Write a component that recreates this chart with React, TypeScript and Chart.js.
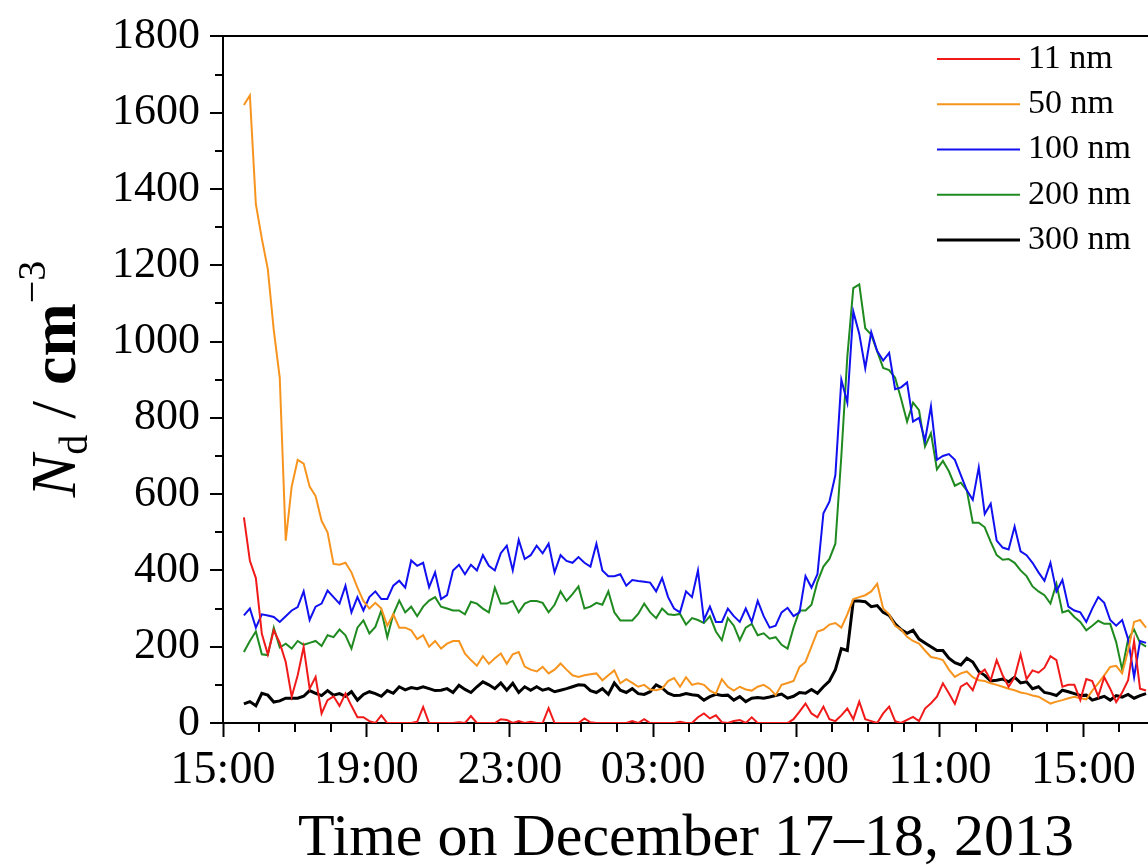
import React, { useEffect, useRef } from "react";
import { Chart, registerables } from "chart.js";

Chart.register(...registerables);

const FONT = '"Liberation Serif", "Times New Roman", Times, serif';

// Axis ticks: hours after 15:00 on 17 December
const X_TICK_HOURS = [0, 4, 8, 12, 16, 20, 24];
const X_TICK_LABELS = ["15:00", "19:00", "23:00", "03:00", "07:00", "11:00", "15:00"];
const X_MINOR_HOURS = [1, 2, 3, 5, 6, 7, 9, 10, 11, 13, 14, 15, 17, 18, 19, 21, 22, 23, 25];
const Y_MINOR_VALUES = [100, 300, 500, 700, 900, 1100, 1300, 1500, 1700];

const SERIES_LABELS = ["11 nm", "50 nm", "100 nm", "200 nm", "300 nm"];
const SERIES_COLORS = ["#f01a1a", "#f7941e", "#1010f0", "#1f8a1f", "#000000"];
const SERIES_WIDTHS = [2, 2, 2, 2, 3];

// Scans every 10 minutes, first one at 15:35
const FIRST_SCAN_MIN = 35;
const SCAN_STEP_MIN = 10;

// Number concentration (cm^-3) per diameter
const n11 = [
  539, 425, 380, 234, 180, 243, 210, 160, 69, 125,
  199, 90, 121, 25, 60, 70, 45, 77, 45, 15,
  15, 5, 0, 20, 0, 0, 0, 0, 0, 3,
  42, 0, 0, 0, 0, 0, 2, 0, 18, 0,
  0, 0, 0, 10, 8, 0, 5, 0, 3, 0,
  0, 39, 0, 0, 0, 0, 0, 12, 2, 0,
  0, 0, 0, 0, 0, 5, 0, 10, 0, 0,
  0, 0, 0, 3, 0, 0, 15, 25, 12, 20,
  2, 0, 5, 8, 0, 15, 0, 0, 0, 0,
  0, 0, 10, 30, 51, 25, 15, 43, 10, 5,
  20, 38, 10, 56, 10, 5, 0, 25, 43, 5,
  0, 8, 16, 5, 38, 52, 69, 104, 78, 50,
  95, 105, 86, 128, 140, 112, 165, 125, 95, 120,
  180, 115, 138, 132, 145, 175, 165, 95, 100, 100,
  60, 115, 110, 70, 120, 90, 55, 80, 112, 215,
  90, 85,
];

const n50 = [
  1620, 1645, 1360, 1270, 1190, 1030, 905, 478, 620, 690,
  680, 620, 595, 530, 500, 417, 415, 420, 395, 355,
  320, 300, 315, 300, 255, 285, 250, 250, 243, 220,
  230, 200, 215, 195, 208, 215, 215, 182, 165, 150,
  175, 155, 170, 182, 155, 180, 186, 148, 140, 135,
  147, 130, 140, 156, 140, 125, 121, 125, 128, 130,
  112, 125, 138, 104, 115, 105, 95, 100, 88, 86,
  90, 110, 118, 95, 120, 100, 104, 100, 85, 77,
  115, 95, 85, 95, 88, 85, 95, 100, 90, 73,
  100, 105, 110, 147, 160, 200, 240, 245, 258, 262,
  250, 285, 325, 330, 335, 345, 365, 300, 285, 255,
  245, 226, 215, 208, 190, 173, 170, 165, 140, 121,
  130, 135, 120, 112, 110, 104, 100, 95, 90, 86,
  80, 77, 72, 69, 60, 51, 56, 60, 65, 69,
  65, 62, 85, 104, 125, 147, 150, 130, 190, 265,
  270, 250,
];

const n100 = [
  282, 300, 250, 285, 282, 278, 265, 280, 295, 304,
  345, 270, 305, 313, 347, 330, 313, 360, 290, 330,
  295, 330, 345, 325, 325, 360, 373, 355, 426, 412,
  420, 356, 395, 325, 335, 400, 415, 390, 415, 400,
  440, 412, 400, 445, 465, 400, 480, 430, 440, 465,
  445, 470, 395, 440, 425, 420, 435, 420, 410, 470,
  400, 385, 385, 390, 360, 375, 372, 370, 368, 345,
  380, 330, 300, 290, 345, 330, 400, 270, 305, 265,
  265, 300, 280, 265, 300, 265, 320, 280, 250, 255,
  290, 302, 280, 290, 385, 355, 390, 550, 580, 650,
  900, 840, 1079, 1020, 930, 1025, 975, 950, 970, 875,
  880, 893, 790, 800, 740, 830, 690, 700, 705, 690,
  650, 610, 585, 670, 548, 575, 478, 460, 455, 515,
  450, 440, 420, 395, 373, 420, 345, 375, 305, 295,
  290, 265, 300, 330, 315, 270, 255, 270, 220, 120,
  215, 210,
];

const n200 = [
  186, 215, 240, 180, 178, 250, 198, 208, 195, 215,
  205, 210, 215, 202, 230, 225, 245, 230, 195, 250,
  269, 235, 252, 295, 225, 285, 321, 290, 305, 280,
  305, 321, 330, 305, 300, 295, 295, 285, 318, 313,
  300, 290, 355, 313, 313, 320, 290, 313, 320, 320,
  315, 290, 310, 345, 320, 338, 358, 300, 305, 315,
  310, 345, 290, 269, 269, 269, 286, 313, 290, 275,
  300, 285, 283, 286, 258, 275, 270, 262, 280, 240,
  217, 275, 255, 217, 250, 260, 230, 235, 221, 225,
  205, 195, 250, 295, 295, 310, 370, 410, 430, 470,
  700, 960, 1140, 1150, 1035, 1018, 974, 931, 925, 905,
  850, 790, 840, 820, 725, 760, 665, 687, 660, 622,
  630, 610, 525, 525, 513, 475, 440, 428, 430, 420,
  400, 385, 358, 345, 335, 313, 365, 290, 295, 278,
  265, 243, 255, 268, 260, 260, 212, 140, 220, 245,
  210, 200,
];

const n300 = [
  50, 56, 45, 78, 73, 55, 58, 65, 65, 65,
  70, 85, 78, 72, 85, 73, 77, 70, 82, 60,
  75, 82, 77, 70, 85, 78, 95, 87, 93, 90,
  95, 90, 85, 86, 90, 80, 99, 88, 80, 95,
  108, 100, 90, 105, 86, 104, 80, 95, 86, 95,
  86, 90, 82, 86, 90, 95, 100, 99, 85, 80,
  90, 75, 105, 86, 80, 90, 77, 75, 82, 100,
  92, 78, 72, 73, 77, 74, 72, 60, 69, 75,
  72, 73, 60, 69, 56, 65, 67, 65, 68, 72,
  76, 65, 70, 80, 78, 88, 78, 95, 110, 140,
  195, 190, 320, 320, 318, 305, 308, 290, 282, 260,
  245, 235, 243, 220, 210, 200, 190, 190, 170, 158,
  152, 170, 160, 135, 125, 110, 112, 115, 108, 120,
  105, 108, 90, 95, 80, 77, 72, 86, 82, 77,
  72, 73, 60, 65, 70, 60, 72, 68, 75, 65,
  72, 77,
];

const SERIES_VALUES = [n11, n50, n100, n200, n300];

const scanHour = (i: number) => (FIRST_SCAN_MIN + SCAN_STEP_MIN * i) / 60;

// Short minor tick marks on both axes
const minorTicks = {
  id: "minorTicks",
  afterDraw(chart: any) {
    const { ctx, chartArea, scales } = chart;
    ctx.save();
    ctx.strokeStyle = "#000";
    ctx.lineWidth = 2;
    ctx.beginPath();
    Y_MINOR_VALUES.forEach((v) => {
      const py = Math.round(scales.y.getPixelForValue(v));
      ctx.moveTo(chartArea.left - 8, py);
      ctx.lineTo(chartArea.left, py);
    });
    X_MINOR_HOURS.forEach((h) => {
      const px = Math.round(scales.x.getPixelForValue(h));
      ctx.moveTo(px, chartArea.bottom);
      ctx.lineTo(px, chartArea.bottom + 9);
    });
    ctx.stroke();
    ctx.restore();
  },
};

// Legend inside the plot, top right
const insetLegend = {
  id: "insetLegend",
  afterDatasetsDraw(chart: any) {
    const { ctx } = chart;
    ctx.save();
    ctx.font = `34px ${FONT}`;
    ctx.textBaseline = "middle";
    ctx.textAlign = "left";
    chart.data.datasets.forEach((ds: any, i: number) => {
      const y = 59 + i * 45.25;
      ctx.strokeStyle = ds.borderColor;
      ctx.lineWidth = ds.borderWidth;
      ctx.beginPath();
      ctx.moveTo(937, y);
      ctx.lineTo(1020, y);
      ctx.stroke();
      ctx.fillStyle = "#000";
      ctx.fillText(ds.label, 1028, y);
    });
    ctx.restore();
  },
};

// Axis titles, the y one with italic N, subscript d and superscript -3
const axisTitles = {
  id: "axisTitles",
  afterDraw(chart: any) {
    const { ctx } = chart;
    ctx.save();
    ctx.fillStyle = "#000";
    ctx.textBaseline = "alphabetic";
    ctx.textAlign = "left";

    ctx.font = `60px ${FONT}`;
    const xt = "Time on December 17\u201318, 2013";
    const w = ctx.measureText(xt).width;
    ctx.fillText(xt, 686 - w / 2, 855);

    const parts = [
      { t: "N", font: `italic 64px ${FONT}`, dy: 0 },
      { t: "d", font: `40px ${FONT}`, dy: 12 },
      { t: " / ", font: `64px ${FONT}`, dy: 0 },
      { t: "cm", font: `bold 64px ${FONT}`, dy: 0 },
      { t: "\u22123", font: `40px ${FONT}`, dy: -30 },
    ];
    let total = 0;
    const widths = parts.map((p) => {
      ctx.font = p.font;
      const pw = ctx.measureText(p.t).width;
      total += pw;
      return pw;
    });
    ctx.translate(75, 379);
    ctx.rotate(-Math.PI / 2);
    let cx = -total / 2;
    parts.forEach((p, i) => {
      ctx.font = p.font;
      ctx.fillText(p.t, cx, p.dy);
      cx += widths[i];
    });
    ctx.restore();
  },
};

export default function App() {
  const canvasRef = useRef<HTMLCanvasElement | null>(null);

  useEffect(() => {
    if (!canvasRef.current) return;
    const datasets = SERIES_LABELS.map((label, k) => ({
      label,
      data: SERIES_VALUES[k].map((v, i) => ({ x: scanHour(i), y: v })),
      borderColor: SERIES_COLORS[k],
      backgroundColor: SERIES_COLORS[k],
      borderWidth: SERIES_WIDTHS[k],
      pointRadius: 0,
      tension: 0,
      fill: false,
    }));

    const chart = new Chart(canvasRef.current, {
      type: "line",
      data: { datasets },
      plugins: [minorTicks, insetLegend, axisTitles],
      options: {
        animation: false,
        responsive: false,
        devicePixelRatio: 1,
        layout: { padding: { top: 34, left: 0, right: 15, bottom: 0 } },
        plugins: { legend: { display: false }, tooltip: { enabled: false } },
        scales: {
          x: {
            type: "linear",
            min: 0,
            max: 26,
            afterBuildTicks: (scale: any) => {
              scale.ticks = X_TICK_HOURS.map((v) => ({ value: v }));
            },
            afterFit: (scale: any) => {
              scale.height = 142;
            },
            ticks: {
              autoSkip: false,
              maxRotation: 0,
              padding: 6,
              color: "#000",
              font: { family: FONT, size: 46 },
              callback: (v: any) => {
                const idx = X_TICK_HOURS.indexOf(Number(v));
                return idx >= 0 ? X_TICK_LABELS[idx] : "";
              },
            },
            grid: {
              drawOnChartArea: false,
              drawTicks: true,
              tickLength: 14,
              tickWidth: 2,
              tickColor: "#000",
            },
            border: { display: true, color: "#000", width: 2 },
          },
          y: {
            min: 0,
            max: 1800,
            afterFit: (scale: any) => {
              scale.width = 223;
            },
            ticks: {
              stepSize: 200,
              autoSkip: false,
              padding: 10,
              color: "#000",
              font: { family: FONT, size: 44 },
              callback: (v: any) => String(v),
            },
            grid: {
              drawOnChartArea: true,
              drawTicks: true,
              tickLength: 13,
              tickWidth: 2,
              tickColor: "#000",
              lineWidth: 2,
              color: (c: any) => (c.tick && c.tick.value === 1800 ? "#000" : "rgba(0,0,0,0)"),
            },
            border: { display: true, color: "#000", width: 2 },
          },
        },
      },
    });
    return () => chart.destroy();
  }, []);

  return (
    <div
      style={{
        position: "absolute",
        left: 0,
        top: 0,
        width: 1148,
        height: 865,
        overflow: "hidden",
        background: "#fff",
      }}
    >
      <canvas ref={canvasRef} width={1170} height={865} style={{ display: "block" }} />
    </div>
  );
}
